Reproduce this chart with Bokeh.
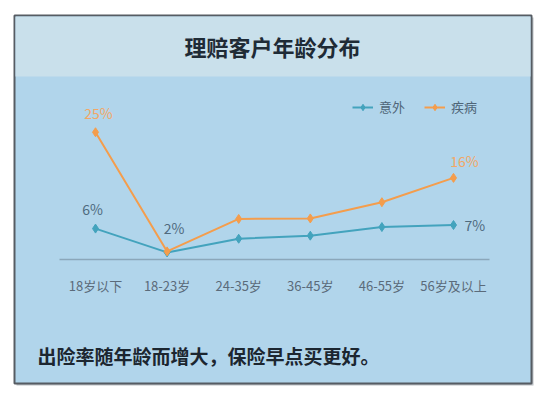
from bokeh.plotting import figure
from bokeh.models import LinearAxis, FixedTicker, Label, ColumnDataSource
from bokeh.core.properties import value
from bokeh.embed import file_html
from bokeh.resources import INLINE

# ---- data ----
categories = ["18岁以下", "18-23岁", "24-35岁", "36-45岁", "46-55岁", "56岁及以上"]
accident = [6.0, 1.3, 4.0, 4.6, 6.3, 6.7]      # 意外 (%)
disease = [25.0, 1.5, 7.9, 8.0, 11.2, 16.0]    # 疾病 (%)
acc_label_idx = [0, 1, 5]
acc_label_txt = ["6%", "2%", "7%"]
dis_label_idx = [0, 5]
dis_label_txt = ["25%", "16%"]
title_text = "理赔客户年龄分布"
note_text = "出险率随年龄而增大，保险早点买更好。"

FONT = "Noto Sans CJK SC"
W, H = 543, 399
OFF = 0  # page offset of the figure
# pixel <-> data helpers (page coordinates)
SX, X0 = 71.6, 95.0
SY, Y0 = 5.07, 258.5
def dx(px):
    return (px - X0) / SX
def dy(py):
    return (Y0 - py) / SY

p = figure(width=W, height=H, output_backend="svg", toolbar_location=None,
           x_range=(dx(OFF), dx(OFF + W)), y_range=(dy(OFF + H), dy(OFF)),
           x_axis_type=None, y_axis_type=None, min_border=0,
           background_fill_color="white", border_fill_color="white")
p.outline_line_color = None
p.grid.visible = False

# panel decoration
p.quad(left=dx(16), right=dx(533), top=dy(17), bottom=dy(385),
       fill_color="#8f979f", line_color=None, fill_alpha=0.6)
p.quad(left=dx(14), right=dx(531), top=dy(15), bottom=dy(383),
       fill_color="#b1d5eb", line_color="#565c63", line_width=2)
p.quad(left=dx(15), right=dx(530), top=dy(16), bottom=dy(76),
       fill_color="#c9e0eb", line_color=None)

xs = list(range(len(categories)))

# x axis fixed at zero
ax = LinearAxis(fixed_location=0, bounds=(-0.5, len(categories) - 0.5),
                ticker=FixedTicker(ticks=xs),
                major_label_overrides={i: c for i, c in enumerate(categories)})
ax.axis_line_color = "#8ba7ba"
ax.axis_line_width = 1.5
ax.major_tick_line_color = None
ax.minor_tick_line_color = None
ax.major_tick_out = 0
ax.major_tick_in = 0
ax.major_label_standoff = 17
ax.major_label_text_font = FONT
ax.major_label_text_font_size = "13px"
ax.major_label_text_color = "#5b6b7a"
p.add_layout(ax, "below")

TEAL = "#43a3bd"
ORANGE = "#f49d4c"
src_a = ColumnDataSource(dict(x=xs, y=accident))
src_d = ColumnDataSource(dict(x=xs, y=disease))
p.line("x", "y", source=src_a, line_color=TEAL, line_width=2, legend_label="意外")
p.scatter("x", "y", source=src_a, marker="diamond", size=9, fill_color=TEAL,
          line_color=TEAL, legend_label="意外")
p.line("x", "y", source=src_d, line_color=ORANGE, line_width=2, legend_label="疾病")
p.scatter("x", "y", source=src_d, marker="diamond", size=9, fill_color=ORANGE,
          line_color=ORANGE, legend_label="疾病")

# value labels
acc_offsets = [(-3, -20, "center"), (7, -24, "center"), (11, 0, "left")]
for (i, t, (ox, oy, al)) in zip(acc_label_idx, acc_label_txt, acc_offsets):
    p.text(x=[xs[i]], y=[accident[i]], text=[t], x_offset=ox, y_offset=oy,
           text_align=al, text_baseline="middle", text_font=value(FONT),
           text_font_size="14px", text_color="#4f6a7e")
dis_offsets = [(3, -19, "center"), (11, -17, "center")]
for (i, t, (ox, oy, al)) in zip(dis_label_idx, dis_label_txt, dis_offsets):
    p.text(x=[xs[i]], y=[disease[i]], text=[t], x_offset=ox, y_offset=oy,
           text_align=al, text_baseline="middle", text_font=value(FONT),
           text_font_size="14px", text_color="#f3a765")

# title and note
p.add_layout(Label(x=dx(272), y=dy(45), text=title_text, text_align="center",
                   text_baseline="middle", text_font=FONT, text_font_size="22px",
                   text_font_style="bold", text_color="#1f2b36"))
p.add_layout(Label(x=dx(37), y=dy(355), text=note_text, text_align="left",
                   text_baseline="middle", text_font=FONT, text_font_size="19px",
                   text_font_style="bold", text_color="#1c2630"))

# legend
lg = p.legend[0]
lg.orientation = "horizontal"
lg.location = (352, 283)
lg.background_fill_alpha = 0
lg.border_line_color = None
lg.padding = 0
lg.margin = 0
lg.spacing = 19
lg.glyph_width = 21
lg.glyph_height = 16
lg.label_standoff = 6
lg.label_text_font = FONT
lg.label_text_font_size = "13px"
lg.label_text_color = "#4f6578"

open("out.html", "w").write(file_html(p, INLINE))
